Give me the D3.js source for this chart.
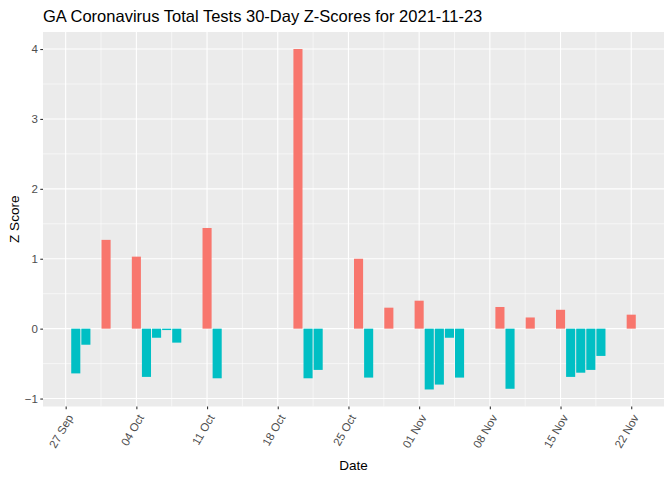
<!DOCTYPE html>
<html>
<head>
<meta charset="utf-8">
<script src="https://cdn.jsdelivr.net/npm/d3@7"></script>
<style>
  body { margin: 0; background: #fff; }
  svg { font-family: "Liberation Sans", Arial, sans-serif; }
</style>
</head>
<body>
<svg id="chart" width="672" height="480"></svg>
<script>
// dias com valor (ano 2021), z-score
const dates = [
  "2021-09-28", "2021-09-29", "2021-10-01", "2021-10-04", "2021-10-05", "2021-10-06",
  "2021-10-07", "2021-10-08", "2021-10-11", "2021-10-12", "2021-10-20", "2021-10-21",
  "2021-10-22", "2021-10-26", "2021-10-27", "2021-10-29", "2021-11-01", "2021-11-02",
  "2021-11-03", "2021-11-04", "2021-11-05", "2021-11-09", "2021-11-10", "2021-11-12",
  "2021-11-15", "2021-11-16", "2021-11-17", "2021-11-18", "2021-11-19", "2021-11-22"
];
const zScores = [
  -0.64, -0.23, 1.27, 1.03, -0.69, -0.13,
  -0.02, -0.20, 1.44, -0.71, 4.00, -0.71,
  -0.59, 1.00, -0.70, 0.30, 0.40, -0.87,
  -0.80, -0.13, -0.70, 0.31, -0.86, 0.16,
  0.27, -0.69, -0.63, -0.59, -0.39, 0.20
];
const xTicks = ["2021-09-27", "2021-10-04", "2021-10-11", "2021-10-18", "2021-10-25",
                "2021-11-01", "2021-11-08", "2021-11-15", "2021-11-22"];
const yTicks = [-1, 0, 1, 2, 3, 4];

const parse = d3.utcParse("%Y-%m-%d");
const fmt = d3.utcFormat("%d %b");
const DAY = 864e5;

const dados = dates.map((d, i) => ({ date: parse(d), z: zScores[i] }));

const svg = d3.select("#chart");
const panel = { left: 43, right: 664, top: 32, bottom: 406.5 };

// escala x com expansão de 5% como no ggplot (barras com largura 0.9 dia)
const xMin = d3.min(dados, d => +d.date) - 0.45 * DAY;
const xMax = d3.max(dados, d => +d.date) + 0.45 * DAY;
const xPad = (xMax - xMin) * 0.05;
const x = d3.scaleUtc()
  .domain([new Date(xMin - xPad), new Date(xMax + xPad)])
  .range([panel.left, panel.right]);

const yMin = Math.min(0, d3.min(zScores));
const yMax = Math.max(0, d3.max(zScores));
const yPad = (yMax - yMin) * 0.05;
const y = d3.scaleLinear()
  .domain([yMin - yPad, yMax + yPad])
  .range([panel.bottom, panel.top]);

// fundo do painel
svg.append("rect")
  .attr("x", panel.left).attr("y", panel.top)
  .attr("width", panel.right - panel.left).attr("height", panel.bottom - panel.top)
  .attr("fill", "#EBEBEB");

const grid = svg.append("g");
const majorX = xTicks.map(parse);
// linhas menores no meio das semanas
const minorX = d3.pairs(majorX).map(([a, b]) => new Date((+a + +b) / 2));
const minorY = d3.pairs(yTicks).map(([a, b]) => (a + b) / 2);

grid.selectAll(".minx").data(minorX).enter().append("line")
  .attr("x1", d => x(d)).attr("x2", d => x(d))
  .attr("y1", panel.top).attr("y2", panel.bottom)
  .attr("stroke", "#fff").attr("stroke-width", 0.55);
grid.selectAll(".miny").data(minorY).enter().append("line")
  .attr("x1", panel.left).attr("x2", panel.right)
  .attr("y1", d => y(d)).attr("y2", d => y(d))
  .attr("stroke", "#fff").attr("stroke-width", 0.55);
grid.selectAll(".majx").data(majorX).enter().append("line")
  .attr("x1", d => x(d)).attr("x2", d => x(d))
  .attr("y1", panel.top).attr("y2", panel.bottom)
  .attr("stroke", "#fff").attr("stroke-width", 1.1);
grid.selectAll(".majy").data(yTicks).enter().append("line")
  .attr("x1", panel.left).attr("x2", panel.right)
  .attr("y1", d => y(d)).attr("y2", d => y(d))
  .attr("stroke", "#fff").attr("stroke-width", 1.1);

// barras
const barW = x(new Date(0.9 * DAY)) - x(new Date(0));
svg.append("g").selectAll("rect")
  .data(dados).enter().append("rect")
  .attr("x", d => x(d.date) - barW / 2)
  .attr("width", barW)
  .attr("y", d => y(Math.max(0, d.z)))
  .attr("height", d => Math.abs(y(d.z) - y(0)))
  .attr("fill", d => d.z > 0 ? "#F8766D" : "#00BFC4");

// eixo y
const yAxis = svg.append("g")
  .attr("transform", `translate(${panel.left},0)`)
  .call(d3.axisLeft(y).tickValues(yTicks).tickSize(2.7).tickPadding(2.5).tickFormat(d3.format("d")));
yAxis.select(".domain").remove();
yAxis.selectAll("line").attr("stroke", "#333").attr("stroke-width", 1.1);
yAxis.selectAll("text").attr("fill", "#4D4D4D").style("font-size", "11.5px");

// eixo x
const xAxis = svg.append("g")
  .attr("transform", `translate(0,${panel.bottom})`)
  .call(d3.axisBottom(x).tickValues(majorX).tickSize(2.7).tickFormat(fmt));
xAxis.select(".domain").remove();
xAxis.selectAll("line").attr("stroke", "#333").attr("stroke-width", 1.1);
xAxis.selectAll("text")
  .attr("fill", "#4D4D4D").style("font-size", "11.5px")
  .attr("text-anchor", "end")
  .attr("x", 0).attr("y", 0).attr("dy", "0.35em")
  .attr("transform", "translate(4,9) rotate(-60)");

// títulos
svg.append("text")
  .attr("x", panel.left).attr("y", 22)
  .attr("fill", "#000").style("font-size", "16.5px")
  .text("GA Coronavirus Total Tests 30-Day Z-Scores for 2021-11-23");

svg.append("text")
  .attr("x", (panel.left + panel.right) / 2).attr("y", 470)
  .attr("text-anchor", "middle").style("font-size", "13.5px")
  .text("Date");

svg.append("text")
  .attr("transform", `translate(19,${(panel.top + panel.bottom) / 2}) rotate(-90)`)
  .attr("text-anchor", "middle").style("font-size", "13.5px")
  .text("Z Score");
</script>
</body>
</html>
